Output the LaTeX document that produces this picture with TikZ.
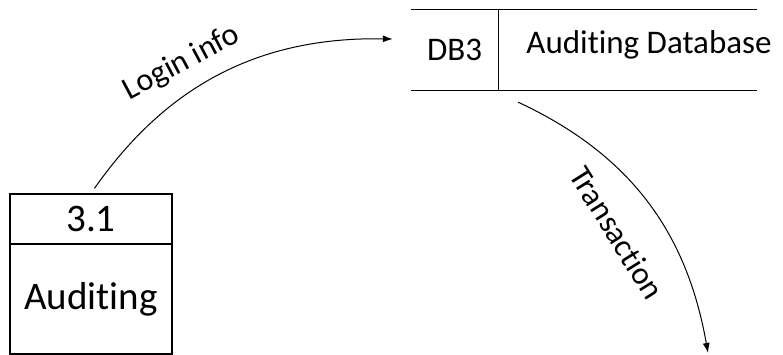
\documentclass[tikz,border=0pt]{standalone}
\usepackage{fontspec}
\setmainfont{Carlito}[Ligatures=CommonOff]
\usetikzlibrary{arrows.meta}
\begin{document}
\begin{tikzpicture}[x=1pt, y=1pt, line join=miter,
	box/.style={draw, line width=1.3pt, inner sep=0pt, minimum width=162pt},
	flow/.style={line width=1pt, -{Latex[length=10pt, width=7pt]}},
	lbl/.style={inner sep=0pt, font=\fontsize{32}{38}\selectfont}]
	\useasboundingbox (0, 0) rectangle (783, 355);
	\node[box, minimum height=50pt, font=\fontsize{39}{46}\selectfont] (pid) at (91, 136) {3.1};
	\node[box, minimum height=110pt, font=\fontsize{39}{46}\selectfont] (pname) at (91, 56) {Auditing};
	\node[inner sep=0pt, minimum width=87pt, minimum height=80pt, font=\fontsize{33}{40}\selectfont] (dbid) at (454.5, 305) {DB3};
	\node[inner sep=0pt, font=\fontsize{33}{40}\selectfont] (dbname) at (649, 310) {Auditing Database};
	\draw[line width=1.3pt] (dbid.north west) -- ++(346, 0);
	\draw[line width=1.3pt] (dbid.south west) -- ++(346, 0);
	\draw[line width=1.3pt] (dbid.north east) -- (dbid.south east);
	\coordinate (txend) at (708, 2);
	\draw[flow, shorten <=6pt] (pid.north) to[out=55, in=179] ([xshift=-18pt, yshift=11pt]dbid.west);
	\draw[flow] ([xshift=20pt, yshift=-12pt]dbid.south east) to[out=-25, in=100] (txend);
	\node[lbl, rotate=28] (login) at (182, 292) {Login info};
	\node[lbl, rotate=-58] (trans) at (617, 122) {Transaction};
\end{tikzpicture}
\end{document}
